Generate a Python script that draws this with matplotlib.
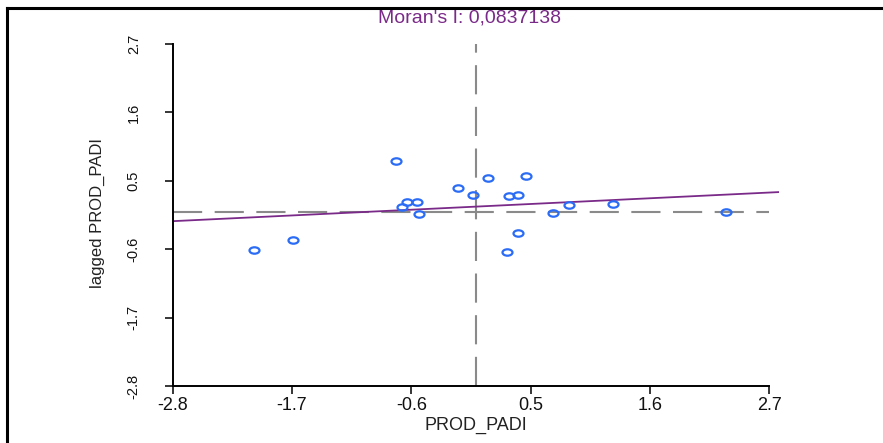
import matplotlib.pyplot as plt
from matplotlib.lines import Line2D
from matplotlib.path import Path
import numpy as np

plt.rcParams.update({
    'font.family': ['Liberation Sans', 'DejaVu Sans'],
    'axes.spines.top': False,
    'axes.spines.right': False,
})

# ── Datos ─────────────────────────────────────────────────────────────
prod_padi = [-0.745, 0.109, 0.453, -0.168, -0.034, 0.300, 0.385, -0.643, -0.551,
             -0.684, -0.530, -1.688, -2.048, 0.385, 0.278, 0.708, 0.855, 1.261, 2.306]
lagged    = [0.823, 0.550, 0.572, 0.379, 0.272, 0.256, 0.272, 0.164, 0.164,
             0.079, -0.039, -0.452, -0.618, -0.344, -0.640, -0.023, 0.106, 0.127, -0.002]

moran_i   = 0.0837138
intercept = 0.085
mean_x    = 0.0
mean_wx   = 0.0

ticks = [-2.8, -1.7, -0.6, 0.5, 1.6, 2.7]
tick_labels = ['-2.8', '-1.7', '-0.6', '0.5', '1.6', '2.7']

purple = '#7a2a88'
blue   = '#2b6cf6'
grey   = '#8a8a8a'

# marcador elíptico (la imagen original está estirada en horizontal)
circ = Path.unit_circle()
ellipse = Path(circ.vertices * np.array([1.0, 0.64]), circ.codes)

fig = plt.figure(figsize=(8.83, 4.43), dpi=100)
ax = fig.add_axes([0.1956, 0.1287, 0.6866, 0.779])

dash = (0, (14, 6))
ax.hlines(mean_wx, ticks[0], ticks[-1], color=grey, lw=1.5, linestyles=[dash], zorder=1)
ax.vlines(mean_x, ticks[0], ticks[-1], color=grey, lw=1.5, linestyles=[dash], zorder=1)
ax.axline((0, intercept), slope=moran_i, color=purple, lw=1.3, zorder=2)
ax.plot(prod_padi, lagged, ls='none', marker=ellipse, ms=7.2, mfc='none',
        mec=blue, mew=1.6, zorder=3)

ax.set_xlim(-2.8, 2.79)
ax.set_ylim(-2.8, 2.75)
ax.set_xticks(ticks)
ax.set_xticklabels(tick_labels, fontsize=13, color='#111111')
ax.set_yticks(ticks)
ax.set_yticklabels(tick_labels, fontsize=10.5, rotation=90, va='center', color='#111111')
ax.spines['left'].set_bounds(ticks[0], ticks[-1])
ax.spines['bottom'].set_bounds(ticks[0], ticks[-1])
for s in ('left', 'bottom'):
    ax.spines[s].set_linewidth(1.4)
ax.tick_params(axis='both', direction='out', length=6, width=1.1, color='black')
ax.tick_params(axis='x', pad=2)
ax.tick_params(axis='y', pad=17)

ax.set_xlabel('PROD_PADI', fontsize=13, va='center', color='#222222')
ax.xaxis.set_label_coords(0.5, -0.115)
ax.set_ylabel('lagged PROD_PADI', fontsize=12, va='center', color='#222222')
ax.yaxis.set_label_coords(-0.125, 0.5)

ax.text(0.49, 1.066, "Moran's I: 0,0837138", transform=ax.transAxes,
        ha='center', va='center', fontsize=14, color=purple)

# marco parcial (arriba e izquierda) como en la captura
fig.add_artist(Line2D([0.0079, 1.0], [0.983, 0.983], transform=fig.transFigure,
                      color='black', lw=2.2))
fig.add_artist(Line2D([0.0079, 0.0079], [0.0, 0.983], transform=fig.transFigure,
                      color='black', lw=2.2))

plt.savefig('out.png', dpi=100)
